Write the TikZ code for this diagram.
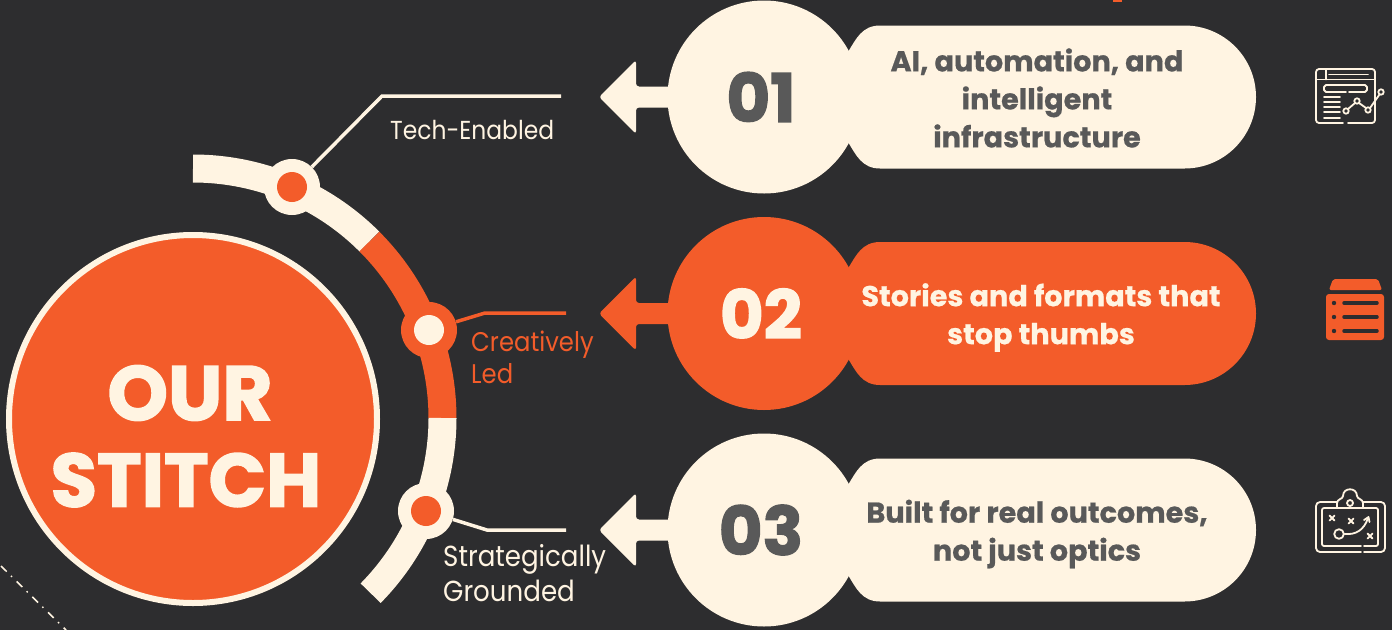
\documentclass[tikz,border=0pt]{standalone}
\usepackage{fontspec}
\setmainfont{Poppins}
\newfontfamily\headfont[BoldFeatures={FakeBold=0.6}]{Poppins}
\newfontfamily\heavyfont[BoldFeatures={FakeBold=2}]{Poppins}
\newfontfamily\labelfont[FakeStretch=0.9]{Poppins}
\definecolor{bgdark}{HTML}{2D2D2F}
\definecolor{cream}{HTML}{FFF4E2}
\definecolor{orng}{HTML}{F35C2A}
\definecolor{greytext}{HTML}{595959}
\tikzset{
  dotnode/.style={circle,inner sep=0pt,minimum size=#1},
  leader/.style={line width=3.5pt,line join=miter},
  lab/.style={align=left,anchor=west,inner sep=0pt},
  pilltext/.style={font=\headfont\bfseries\fontsize{28.7}{38}\selectfont,align=center,inner sep=0pt},
  numtext/.style={font=\heavyfont\bfseries\fontsize{67}{67}\selectfont,inner sep=0pt},
  hubtext/.style={text=cream,inner sep=0pt},
  iconline/.style={draw=cream,line width=1.8pt,line cap=round,line join=round,fill=none},
}
\newcommand{\rowgroup}[7]{% id, cy, fill, numcolor, number, text position, text
  \begin{scope}[shift={(0,#2)}]
    \fill[#3,rounded corners=3pt] (690,-10.5) -- (636,-10.5) -- (636,-37) -- (599,0) -- (636,37) -- (636,10.5) -- (690,10.5) -- cycle;
    \node[circle,fill=#3,minimum size=193pt,inner sep=0pt] (circ#1) at (764,0) {};
    \fill[#3] (840,-45) -- (848,-45) .. controls (856,-58) and (862,-71.5) .. (880,-71.5) -- (1184.5,-71.5)
      arc[start angle=90,end angle=-90,radius=71.5pt]
      -- (880,71.5) .. controls (862,71.5) and (856,58) .. (848,45) -- (840,45) -- cycle;
    \node[numtext,text=#4] (num#1) at (761,0) {#5};
    \node[pilltext,text=#4] (txt#1) at (#6) {#7};
  \end{scope}
}
\begin{document}
\begin{tikzpicture}[x=1pt,y=-1pt]
\useasboundingbox (0,0) rectangle (1392,630);
\fill[bgdark] (0,0) rectangle (1392,630);
% top-edge fragment
\fill[orng] (1113,0) rectangle (1122,2);
% dash-dot line
\draw[cream,line width=1.5pt,dash pattern=on 8pt off 6pt on 1.5pt off 6.5pt] (1,566) -- (66,630);
% arc
\draw[cream,line width=28pt] (193,168.5) arc[start angle=90,end angle=45,radius=249.5pt];
\draw[orng,line width=28pt] (369.4,241.6) arc[start angle=45,end angle=0,radius=249.5pt];
\draw[cream,line width=28pt] (442.5,418) arc[start angle=0,end angle=-44.6,radius=249.5pt];
% hub
\node[circle,fill=orng,draw=cream,line width=6pt,minimum size=368pt,inner sep=0pt] (hub) at (193,419) {};
\node[hubtext,font=\heavyfont\bfseries\fontsize{77}{77}\selectfont] (hubtop) at (190,393) {OUR};
\node[hubtext,font=\heavyfont\bfseries\fontsize{75.5}{77}\selectfont] (hubbot) at (186,480) {STITCH};
% dots
\node[dotnode=56pt,fill=cream] (d1) at (292,187) {};
\node[dotnode=30pt,fill=orng] (d1i) at (292,187) {};
\node[dotnode=56pt,fill=orng] (d2) at (429,330) {};
\node[dotnode=30pt,fill=cream] (d2i) at (429,330) {};
\node[dotnode=56pt,fill=cream] (d3) at (426,511) {};
\node[dotnode=30pt,fill=orng] (d3i) at (426,511) {};
% leaders
\coordinate (e1) at (382,96); \coordinate (f1) at (561,96);
\coordinate (e2) at (485,313); \coordinate (f2) at (566,313);
\coordinate (e3) at (487,530); \coordinate (f3) at (566,530);
\draw[leader,cream] (d1) -- (e1) -- (f1);
\draw[leader,orng] (d2) -- (e2) -- (f2);
\draw[leader,cream] (d3) -- (e3) -- (f3);
% labels
\node[lab,text=cream,font=\labelfont\fontsize{26}{32}\selectfont] (l1) at (390,130) {Tech-Enabled};
\node[lab,text=orng,font=\labelfont\fontsize{27}{32}\selectfont] (l2) at (471,357) {Creatively\\Led};
\node[lab,text=cream,font=\labelfont\fontsize{29}{35}\selectfont] (l3) at (443,573) {Strategically\\Grounded};
% rows
\rowgroup{1}{97}{cream}{greytext}{01}{1037,1}{AI, automation, and\\intelligent\\infrastructure}
\rowgroup{2}{313.5}{orng}{cream}{02}{1041,4}{Stories and formats that\\stop thumbs}
\rowgroup{3}{530}{cream}{greytext}{03}{1037,4}{Built for real outcomes,\\not just optics}
% icon 1
\begin{scope}[iconline]
  \draw[iconline] (1343,123) -- (1319,123) arc[start angle=270,end angle=180,radius=3pt] -- (1316,72) arc[start angle=180,end angle=90,radius=3pt] -- (1372,69) arc[start angle=90,end angle=0,radius=3pt] -- (1375,120) arc[start angle=0,end angle=-90,radius=3pt] -- (1348,123);
  \draw[iconline] (1316,79.5) -- (1375,79.5);
  \draw[iconline] (1326,69) -- (1326,79.5);
  \draw[iconline] (1329,74.5) -- (1368,74.5);
  \draw[iconline] (1346,92) -- (1326,92) -- (1324,90) -- (1324,87) -- (1326,85) -- (1365,85) -- (1367,87) -- (1367,90) -- (1365,92) -- (1349,92);
  \foreach \yy in {97,102,107,112,118} \draw[iconline] (1324,\yy) -- (1340,\yy);
  \draw[iconline] (1346,111) circle[radius=2.7pt] (1357,101) circle[radius=2.7pt] (1368,110) circle[radius=2.7pt] (1381,92) circle[radius=2.7pt];
  \draw[iconline] (1348,109) -- (1355,103) (1359,103) -- (1366,108) (1370,108) -- (1379.5,94.5);
\end{scope}
% icon 2
\fill[orng,rounded corners=2pt] (1329,290) -- (1333,279) -- (1378,279) -- (1382,290) -- cycle;
\fill[orng,rounded corners=3pt] (1326,294) rectangle (1384,340);
\foreach \yy in {303,317,331} {
  \fill[bgdark] (1334,\yy) circle[radius=2.2pt];
  \draw[bgdark,line width=3.5pt,line cap=round] (1344,\yy) -- (1377,\yy);
}
% icon 3
\draw[iconline,rounded corners=4pt] (1361,552) -- (1316,552) -- (1316,502) -- (1337,502);
\draw[iconline,rounded corners=4pt] (1364,552) -- (1385,552) -- (1385,502) -- (1363,502);
\draw[iconline,rounded corners=2pt] (1337,508) -- (1322,508) -- (1322,546) -- (1361,546);
\draw[iconline,rounded corners=2pt] (1364,546) -- (1378,546) -- (1378,508) -- (1363,508);
\draw[iconline] (1337,508) -- (1337,503) .. controls (1337,499) and (1343,499) .. (1343,496) .. controls (1343,487) and (1357,487) .. (1357,496) .. controls (1357,499) and (1363,499) .. (1363,503) -- (1363,508) -- (1337,508);
\draw[iconline] (1350,503) circle[radius=3pt];
\foreach \xx/\yy in {1332/518,1351/521,1370/536} \draw[iconline] (\xx-2.5,\yy-2.5) -- (\xx+2.5,\yy+2.5) (\xx-2.5,\yy+2.5) -- (\xx+2.5,\yy-2.5);
\draw[iconline] (1339,534) circle[radius=4.8pt];
\draw[iconline] (1344.5,534) .. controls (1356,535) and (1364,530) .. (1368,518);
\draw[iconline] (1364,520) -- (1368.5,517) -- (1369.5,522);
\end{tikzpicture}
\end{document}
